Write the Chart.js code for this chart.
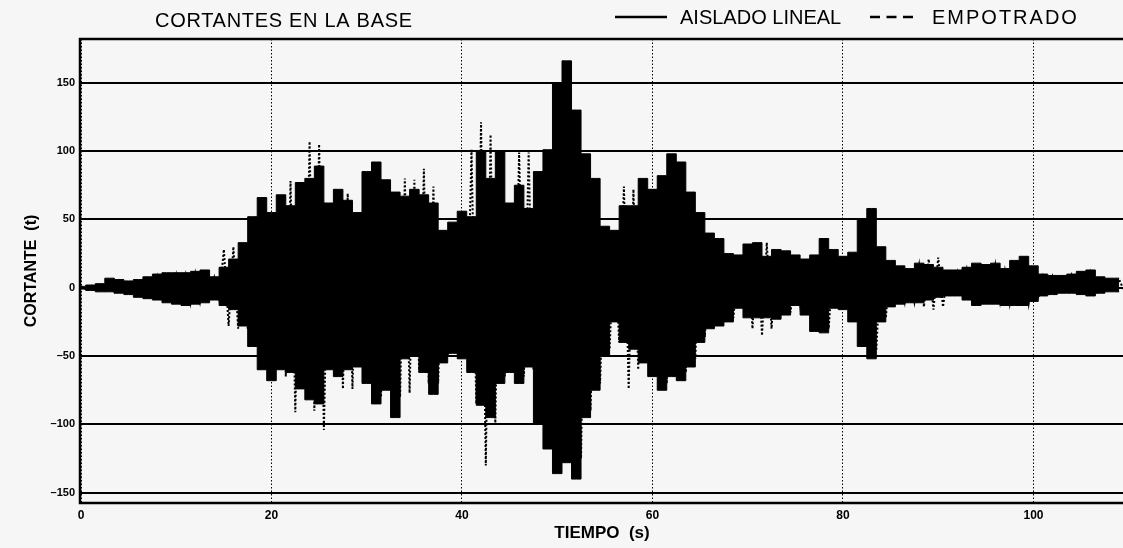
<!DOCTYPE html>
<html>
<head>
<meta charset="utf-8">
<script src="https://cdn.jsdelivr.net/npm/chart.js@4"></script>
<style>
  html, body { margin: 0; padding: 0; background: #f6f6f6; }
  canvas { display: block; }
</style>
</head>
<body>
<canvas id="chart" width="1123" height="548"></canvas>
<script>
// Envolventes, un valor por segundo (t = 0 .. 109 s)
const aisladoSup = [
  1, 2, 3, 7, 6, 5, 6, 8, 10, 11,
  11, 11, 12, 13, 8, 15, 21, 33, 52, 66,
  55, 68, 60, 77, 80, 89, 62, 72, 64, 55,
  85, 92, 79, 70, 67, 72, 68, 62, 42, 48,
  56, 52, 100, 80, 100, 62, 75, 58, 85, 101,
  150, 166, 130, 98, 80, 45, 42, 60, 60, 80,
  72, 82, 98, 92, 70, 55, 40, 36, 25, 24,
  32, 33, 23, 28, 27, 24, 21, 24, 36, 28,
  23, 26, 50, 58, 30, 20, 16, 14, 18, 17,
  15, 13, 13, 15, 18, 17, 18, 14, 20, 23,
  16, 10, 9, 9, 10, 12, 13, 8, 7, 7
];
const aisladoInf = [
  -1, -2, -3, -3, -4, -5, -7, -8, -9, -11,
  -12, -13, -12, -11, -9, -13, -16, -28, -43, -60,
  -68, -60, -62, -74, -82, -85, -60, -65, -60, -58,
  -70, -85, -75, -95, -52, -50, -62, -78, -55, -48,
  -52, -62, -86, -95, -70, -62, -70, -58, -100, -118,
  -136, -128, -140, -95, -75, -50, -25, -40, -45, -55,
  -65, -75, -65, -68, -58, -40, -30, -28, -25, -15,
  -22, -22, -22, -23, -20, -13, -20, -32, -33, -15,
  -16, -25, -43, -52, -25, -14, -12, -11, -11, -9,
  -7, -6, -6, -9, -13, -12, -12, -13, -13, -13,
  -10, -6, -5, -4, -4, -5, -6, -4, -3, -3
];
const empotradoSup = [
  1, 2, 2, 5, 5, 4, 5, 6, 8, 9,
  9, 9, 10, 11, 7, 28, 30, 30, 45, 55,
  50, 60, 78, 65, 107, 105, 55, 65, 69, 50,
  70, 80, 70, 62, 80, 79, 87, 74, 40, 45,
  50, 101, 121, 112, 90, 60, 99, 99, 80, 95,
  120, 140, 115, 90, 70, 40, 40, 74, 72, 70,
  65, 75, 85, 80, 62, 50, 35, 30, 22, 20,
  30, 33, 33, 25, 24, 20, 18, 22, 32, 24,
  20, 23, 42, 50, 26, 18, 14, 12, 16, 21,
  22, 12, 11, 13, 16, 15, 16, 12, 18, 20,
  14, 8, 8, 8, 9, 10, 11, 7, 6, 6
];
const empotradoInf = [
  -1, -2, -2, -3, -3, -4, -6, -7, -8, -9,
  -10, -11, -10, -9, -8, -28, -30, -30, -40, -55,
  -60, -65, -91, -74, -90, -104, -55, -74, -74, -55,
  -65, -80, -70, -80, -77, -62, -70, -70, -50, -45,
  -50, -85, -130, -99, -65, -55, -65, -60, -90, -105,
  -120, -115, -125, -90, -70, -45, -40, -74, -60, -50,
  -60, -70, -60, -62, -52, -36, -28, -25, -22, -14,
  -30, -35, -30, -20, -18, -12, -18, -28, -30, -14,
  -14, -22, -38, -46, -22, -12, -10, -10, -14, -16,
  -14, -5, -5, -8, -11, -10, -10, -11, -11, -11,
  -8, -5, -4, -3, -3, -4, -5, -3, -2, -2
];
const tiempo = aisladoSup.map((_, i) => i);
const xTicks = [0, 20, 40, 60, 80, 100];
const yTicks = [-150, -100, -50, 0, 50, 100, 150];

const FONT = '"Liberation Sans", Arial, sans-serif';

// zigzag del empotrado: pico superior en t, inferior medio segundo despues
const empotradoPts = [];
tiempo.forEach((t, i) => {
  empotradoPts.push({ x: t, y: empotradoSup[i] });
  empotradoPts.push({ x: t + 0.5, y: empotradoInf[i] });
});

const decor = {
  id: 'decor',
  beforeDraw(chart) {
    const ctx = chart.ctx;
    ctx.save();
    ctx.fillStyle = '#f6f6f6';
    ctx.fillRect(0, 0, chart.width, chart.height);
    ctx.restore();
  },
  afterDraw(chart) {
    const { ctx, chartArea: a } = chart;
    ctx.save();
    // marco
    ctx.strokeStyle = '#000';
    ctx.lineWidth = 2.5;
    ctx.beginPath();
    ctx.moveTo(a.right + 2, a.top);
    ctx.lineTo(a.left - 1, a.top);
    ctx.lineTo(a.left - 1, a.bottom);
    ctx.lineTo(a.right + 2, a.bottom);
    ctx.stroke();
    // titulo
    ctx.fillStyle = '#000';
    ctx.font = '20px ' + FONT;
    ctx.textBaseline = 'middle';
    ctx.textAlign = 'left';
    ctx.letterSpacing = '0.7px';
    ctx.fillText('CORTANTES EN LA BASE', 155, 21);
    // leyenda
    const ds = chart.data.datasets;
    ctx.lineWidth = 2.5;
    ctx.beginPath();
    ctx.moveTo(615, 17);
    ctx.lineTo(667, 17);
    ctx.stroke();
    ctx.letterSpacing = '0px';
    ctx.fillText(ds[0].label, 680, 18);
    ctx.setLineDash([10, 6.5]);
    ctx.beginPath();
    ctx.moveTo(870, 17);
    ctx.lineTo(913, 17);
    ctx.stroke();
    ctx.setLineDash([]);
    ctx.letterSpacing = '2px';
    ctx.fillText(ds[2].label, 932, 18);
    ctx.restore();
  }
};

new Chart(document.getElementById('chart'), {
  type: 'line',
  data: {
    datasets: [
      {
        label: 'AISLADO LINEAL',
        data: tiempo.map((t, i) => ({ x: t, y: aisladoSup[i] })),
        borderColor: '#000',
        backgroundColor: '#000',
        borderWidth: 1,
        pointRadius: 0,
        stepped: 'middle',
        fill: '+1'
      },
      {
        label: 'aislado-inf',
        data: tiempo.map((t, i) => ({ x: t, y: aisladoInf[i] })),
        borderColor: '#000',
        borderWidth: 1,
        pointRadius: 0,
        stepped: 'middle',
        fill: false
      },
      {
        label: 'EMPOTRADO',
        data: empotradoPts,
        borderColor: '#000',
        borderWidth: 2,
        borderDash: [2, 2],
        pointRadius: 0,
        tension: 0,
        fill: false
      }
    ]
  },
  options: {
    responsive: false,
    animation: false,
    layout: { padding: { top: 39, right: 0, bottom: 0, left: 0 } },
    plugins: {
      legend: { display: false },
      title: { display: false },
      tooltip: { enabled: false }
    },
    scales: {
      x: {
        type: 'linear',
        min: 0,
        max: 109.4,
        afterBuildTicks: s => { s.ticks = xTicks.map(v => ({ value: v })); },
        afterFit: s => { s.height = 45; },
        grid: { color: '#000', lineWidth: 1, drawTicks: false },
        border: { display: false, dash: [1.5, 2] },
        ticks: {
          padding: 5,
          color: '#000',
          font: { family: FONT, size: 12, weight: 'bold' },
          callback: v => String(v)
        },
        title: {
          display: true,
          text: 'TIEMPO  (s)',
          color: '#000',
          font: { family: FONT, size: 17, weight: 'bold' },
          padding: { top: 0, bottom: 4 }
        }
      },
      y: {
        min: -157.5,
        max: 182,
        afterBuildTicks: s => { s.ticks = yTicks.map(v => ({ value: v })); },
        afterFit: s => { s.width = 81; },
        grid: { color: '#000', lineWidth: 2, drawTicks: false },
        border: { display: false },
        ticks: {
          padding: 6,
          color: '#000',
          font: { family: FONT, size: 11, weight: 'bold' },
          callback: v => (v < 0 ? '–' + Math.abs(v) : String(v))
        },
        title: {
          display: true,
          text: 'CORTANTE  (t)',
          color: '#000',
          font: { family: FONT, size: 16, weight: 'bold' },
          padding: { top: 22, bottom: 0 }
        }
      }
    }
  },
  plugins: [decor]
});
</script>
</body>
</html>
